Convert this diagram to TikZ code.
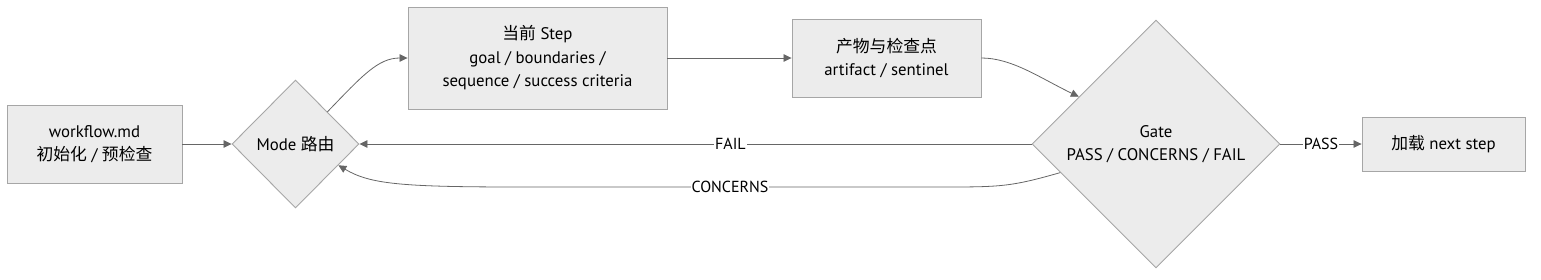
\documentclass[tikz,border=0pt]{standalone}
\usepackage{fontspec}
\setmainfont{PT Sans}
\newfontfamily\cjk{Noto Sans CJK SC}
\usetikzlibrary{shapes.geometric,arrows.meta,calc}
\definecolor{nodefill}{HTML}{ECECEC}
\definecolor{nodeline}{HTML}{A6A6A6}
\definecolor{edgeline}{HTML}{666666}
\tikzset{
  base/.style={draw=nodeline,fill=nodefill,line width=0.9pt,font=\fontsize{16.8}{23.5}\selectfont,align=center,inner sep=0pt},
  boxnode/.style={base,rectangle},
  decision/.style={base,diamond,aspect=1},
  edge/.style={draw=edgeline,line width=0.8pt,-{Triangle[length=8pt,width=7.5pt]}},
  elabel/.style={fill=white,inner sep=1pt,font=\fontsize{16}{18}\selectfont}
}
\begin{document}
\begin{tikzpicture}[x=1pt,y=-1pt]
\useasboundingbox (0,0) rectangle (1541,279);
\node[boxnode,minimum width=175pt,minimum height=78pt] (wf) at (94.5,144) {workflow.md\\{\cjk 初始化} / {\cjk 预检查}};
\node[decision,minimum width=127pt,minimum height=128pt] (mode) at (295.5,144) {Mode {\cjk 路由}};
\node[boxnode,minimum width=259pt,minimum height=102pt] (step) at (537.5,58) {{\cjk 当前} Step\\goal / boundaries /\\sequence / success criteria};
\node[boxnode,minimum width=189pt,minimum height=78pt] (art) at (886.5,58) {{\cjk 产物与检查点}\\artifact / sentinel};
\node[decision,minimum width=248pt,minimum height=248pt] (gate) at (1156,144) {Gate\\PASS / CONCERNS / FAIL};
\node[boxnode,minimum width=163pt,minimum height=54pt] (next) at (1443.5,144) {{\cjk 加载} next step};

\coordinate (gateA) at ($(gate.north)!0.62!(gate.west)$);
\coordinate (gateB) at ($(gate.west)!0.23!(gate.south)$);
\coordinate (modeB) at ($(mode.east)!0.33!(mode.south)$);

\draw[edge] (wf.east) -- (mode.west);
\draw[edge] (mode.north east) .. controls (362,76) and (378,58) .. (step.west);
\draw[edge] (step.east) -- (art.west);
\draw[edge] (art.east) .. controls (1012,58) and (1040,78) .. (gateA);
\draw[edge] (gate.west) -- node[elabel,pos=0.448] {FAIL} (mode.east);
\draw[edge] (gateB) .. controls (1010,187) and (1000,187) .. (940,187) -- node[elabel] {CONCERNS} (520,187) .. controls (400,187) and (370,184) .. (modeB);
\draw[edge] (gate.east) -- node[elabel] {PASS} (next.west);
\end{tikzpicture}
\end{document}
